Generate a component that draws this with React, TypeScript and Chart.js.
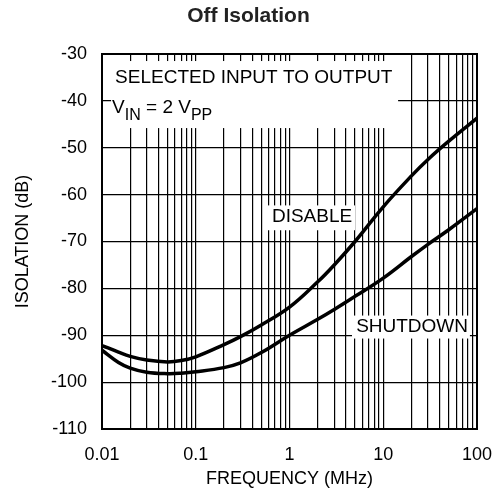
import React, { useEffect, useRef } from "react";
import { Chart, registerables } from "chart.js";

Chart.register(...registerables);

const freqMHz = [0.01, 0.015, 0.02, 0.03, 0.05, 0.07, 0.1, 0.2, 0.3, 0.5, 1, 2, 3, 5, 10, 20, 30, 50, 100];
const disableDb = [-92.2, -93.6, -94.5, -95.3, -95.7, -95.4, -94.6, -92.0, -90.3, -87.8, -84.0, -78.6, -75.0, -70.0, -62.6, -56.0, -52.5, -48.6, -43.7];
const shutdownDb = [-93.2, -95.8, -97.0, -97.9, -98.2, -98.1, -97.8, -96.9, -95.9, -93.7, -90.0, -86.6, -84.5, -81.7, -77.8, -73.2, -70.6, -67.5, -63.0];

const xDecades = [0.01, 0.1, 1, 10, 100];
const xTickLabels = ["0.01", "0.1", "1", "10", "100"];
const yMin = -110;
const yMax = -30;
const yStep = 10;

const titleText = "Off Isolation";
const xTitle = "FREQUENCY (MHz)";
const yTitle = "ISOLATION (dB)";

// white label boxes in data units: [fLeft, fRight, dbTop, dbBottom]
const boxTopLeft = [0.0125, 14.4, -31.5, -45.8];
const boxDisable = [0.575, 5.0, -62.3, -67.6];
const boxShutdown = [4.64, 84, -85.8, -90.7];

// text anchors in data units
const noteLine1 = { text: "SELECTED INPUT TO OUTPUT", f: 0.0138, db: -35.0 };
const noteLine2 = { f: 0.0128, db: -42.6 };
const disableLabel = { text: "DISABLE", f: 1.74, db: -64.8 };
const shutdownLabel = { text: "SHUTDOWN", f: 20.3, db: -88.1 };

const FONT = "'Liberation Sans', Arial, Helvetica, sans-serif";

const notesPlugin = {
  id: "notes",
  beforeDatasetsDraw(chart: any) {
    const { ctx, scales } = chart;
    const x = scales.x;
    const y = scales.y;
    ctx.save();
    ctx.fillStyle = "#fff";
    for (const b of [boxTopLeft, boxDisable, boxShutdown]) {
      const x0 = x.getPixelForValue(b[0]);
      const x1 = x.getPixelForValue(b[1]);
      const y0 = y.getPixelForValue(b[2]);
      const y1 = y.getPixelForValue(b[3]);
      ctx.fillRect(x0, y0, x1 - x0, y1 - y0);
    }
    ctx.fillStyle = "#000";
    ctx.font = `19px ${FONT}`;
    ctx.textBaseline = "middle";
    ctx.textAlign = "left";
    ctx.fillText(noteLine1.text, x.getPixelForValue(noteLine1.f), y.getPixelForValue(noteLine1.db));

    // V_IN = 2 V_PP
    let px = x.getPixelForValue(noteLine2.f);
    const base = y.getPixelForValue(noteLine2.db);
    ctx.textBaseline = "alphabetic";
    const parts: [string, boolean][] = [["V", false], ["IN", true], [" = 2 V", false], ["PP", true]];
    for (const [t, sub] of parts) {
      ctx.font = sub ? `16px ${FONT}` : `19px ${FONT}`;
      ctx.fillText(t, px, sub ? base + 7 : base);
      px += ctx.measureText(t).width;
    }

    ctx.font = `19px ${FONT}`;
    ctx.textAlign = "center";
    ctx.textBaseline = "middle";
    for (const l of [disableLabel, shutdownLabel]) {
      ctx.fillText(l.text, x.getPixelForValue(l.f), y.getPixelForValue(l.db));
    }
    ctx.restore();
  },
  afterDraw(chart: any) {
    const { ctx, chartArea } = chart;
    ctx.save();
    ctx.strokeStyle = "#000";
    ctx.lineWidth = 2;
    ctx.strokeRect(chartArea.left, chartArea.top, chartArea.right - chartArea.left, chartArea.bottom - chartArea.top);
    ctx.fillStyle = "#222";
    ctx.font = `bold 21px ${FONT}`;
    ctx.textAlign = "center";
    ctx.textBaseline = "middle";
    ctx.fillText(titleText, chart.width / 2, 16);
    ctx.restore();
  },
};

function isDecade(v: number) {
  return xDecades.findIndex((d) => Math.abs(v - d) / d < 1e-6);
}

export default function App() {
  const ref = useRef<HTMLCanvasElement | null>(null);
  useEffect(() => {
    if (!ref.current) return;
    const chart = new Chart(ref.current, {
      type: "line",
      data: {
        datasets: [
          {
            label: "DISABLE",
            data: freqMHz.map((f, i) => ({ x: f, y: disableDb[i] })),
            borderColor: "#000",
            borderWidth: 3.5,
            pointRadius: 0,
            tension: 0.4,
            fill: false,
          },
          {
            label: "SHUTDOWN",
            data: freqMHz.map((f, i) => ({ x: f, y: shutdownDb[i] })),
            borderColor: "#000",
            borderWidth: 3.5,
            pointRadius: 0,
            tension: 0.4,
            fill: false,
          },
        ],
      },
      options: {
        animation: false,
        responsive: false,
        devicePixelRatio: 1,
        layout: { padding: { top: 54, right: 20, bottom: 0, left: 0 } },
        plugins: {
          legend: { display: false },
          tooltip: { enabled: false },
          title: { display: false },
        },
        scales: {
          x: {
            type: "logarithmic",
            min: xDecades[0],
            max: xDecades[xDecades.length - 1],
            afterBuildTicks(scale: any) {
              const ticks: { value: number }[] = [];
              for (let i = 0; i < xDecades.length - 1; i++) {
                for (let m = 1; m <= 9; m++) {
                  ticks.push({ value: Number((m * xDecades[i]).toPrecision(4)) });
                }
              }
              ticks.push({ value: xDecades[xDecades.length - 1] });
              scale.ticks = ticks;
            },
            afterFit(scale: any) {
              scale.height = 75;
              scale.paddingLeft = 0;
              scale.paddingRight = 0;
            },
            ticks: {
              autoSkip: false,
              maxRotation: 0,
              minRotation: 0,
              padding: 15,
              color: "#000",
              font: { family: FONT, size: 18 },
              callback: (v: any) => {
                const i = isDecade(Number(v));
                return i >= 0 ? xTickLabels[i] : "";
              },
            },
            grid: { color: "#000", lineWidth: 1.2, drawTicks: false },
            border: { display: true, color: "#000", width: 2 },
            title: {
              display: true,
              text: xTitle,
              color: "#000",
              font: { family: FONT, size: 18 },
              padding: { top: 0, bottom: 14 },
            },
          },
          y: {
            type: "linear",
            min: yMin,
            max: yMax,
            afterFit(scale: any) {
              scale.width = 102;
            },
            ticks: {
              stepSize: yStep,
              padding: 15,
              color: "#000",
              font: { family: FONT, size: 18 },
              callback: (v: any) => String(v),
            },
            grid: { color: "#000", lineWidth: 1.2, drawTicks: false },
            border: { display: true, color: "#000", width: 2 },
            title: {
              display: true,
              text: yTitle,
              color: "#000",
              font: { family: FONT, size: 18 },
              padding: { top: 12, bottom: 0 },
            },
          },
        },
      },
      plugins: [notesPlugin],
    } as any);
    return () => chart.destroy();
  }, []);
  return (
    <div style={{ position: "fixed", left: 0, top: 0, width: 497, height: 504, background: "#fff" }}>
      <canvas ref={ref} width={497} height={504} style={{ display: "block", width: 497, height: 504 }} />
    </div>
  );
}
